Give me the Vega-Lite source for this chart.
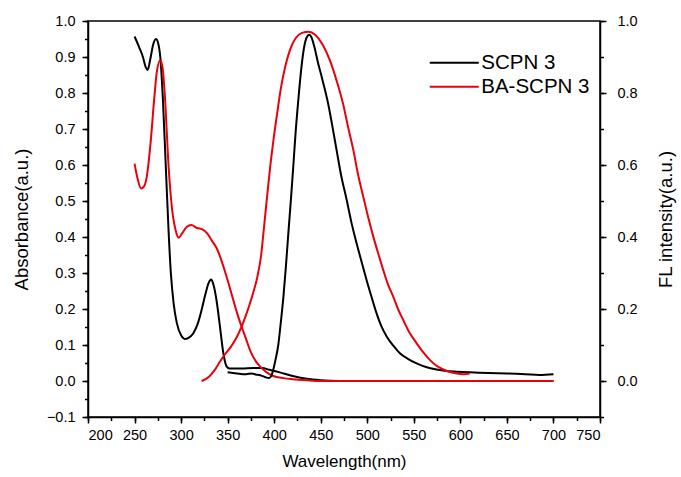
{
  "$schema": "https://vega.github.io/schema/vega-lite/v6.json",
  "width": 512,
  "height": 396,
  "autosize": {"type": "none"},
  "padding": {"left": 88, "top": 21, "right": 81, "bottom": 60},
  "background": "white",
  "config": {
    "view": {"stroke": "black", "strokeWidth": 1.5},
    "font": "Liberation Sans",
    "axis": {
      "grid": false,
      "domainColor": "black",
      "domainWidth": 1.5,
      "tickColor": "black",
      "tickWidth": 1.5,
      "labelColor": "black",
      "titleColor": "black",
      "labelFont": "Liberation Sans",
      "titleFont": "Liberation Sans",
      "labelFontSize": 14.5,
      "titleFontSize": 18.5,
      "titleFontWeight": "normal"
    }
  },
  "datasets": {
    "d": [
      {"s": "SCPN 3", "k": "abs", "wl": 250, "v": 0.957},
      {"s": "SCPN 3", "k": "abs", "wl": 255, "v": 0.927},
      {"s": "SCPN 3", "k": "abs", "wl": 259, "v": 0.9},
      {"s": "SCPN 3", "k": "abs", "wl": 262, "v": 0.872},
      {"s": "SCPN 3", "k": "abs", "wl": 264, "v": 0.864},
      {"s": "SCPN 3", "k": "abs", "wl": 267, "v": 0.895},
      {"s": "SCPN 3", "k": "abs", "wl": 270, "v": 0.935},
      {"s": "SCPN 3", "k": "abs", "wl": 273, "v": 0.95},
      {"s": "SCPN 3", "k": "abs", "wl": 275.5, "v": 0.937},
      {"s": "SCPN 3", "k": "abs", "wl": 278, "v": 0.89},
      {"s": "SCPN 3", "k": "abs", "wl": 280.5, "v": 0.78},
      {"s": "SCPN 3", "k": "abs", "wl": 283.5, "v": 0.6},
      {"s": "SCPN 3", "k": "abs", "wl": 286.5, "v": 0.42},
      {"s": "SCPN 3", "k": "abs", "wl": 289, "v": 0.3},
      {"s": "SCPN 3", "k": "abs", "wl": 292, "v": 0.215},
      {"s": "SCPN 3", "k": "abs", "wl": 295.5, "v": 0.16},
      {"s": "SCPN 3", "k": "abs", "wl": 300, "v": 0.127},
      {"s": "SCPN 3", "k": "abs", "wl": 304, "v": 0.117},
      {"s": "SCPN 3", "k": "abs", "wl": 308, "v": 0.12},
      {"s": "SCPN 3", "k": "abs", "wl": 313, "v": 0.132},
      {"s": "SCPN 3", "k": "abs", "wl": 318, "v": 0.16},
      {"s": "SCPN 3", "k": "abs", "wl": 322, "v": 0.197},
      {"s": "SCPN 3", "k": "abs", "wl": 326, "v": 0.24},
      {"s": "SCPN 3", "k": "abs", "wl": 329.5, "v": 0.272},
      {"s": "SCPN 3", "k": "abs", "wl": 332.5, "v": 0.282},
      {"s": "SCPN 3", "k": "abs", "wl": 335, "v": 0.265},
      {"s": "SCPN 3", "k": "abs", "wl": 338, "v": 0.225},
      {"s": "SCPN 3", "k": "abs", "wl": 341.8, "v": 0.15},
      {"s": "SCPN 3", "k": "abs", "wl": 345.4, "v": 0.077},
      {"s": "SCPN 3", "k": "abs", "wl": 349, "v": 0.04},
      {"s": "SCPN 3", "k": "abs", "wl": 352, "v": 0.035},
      {"s": "SCPN 3", "k": "abs", "wl": 365, "v": 0.035},
      {"s": "SCPN 3", "k": "abs", "wl": 378, "v": 0.036},
      {"s": "SCPN 3", "k": "abs", "wl": 387, "v": 0.036},
      {"s": "SCPN 3", "k": "abs", "wl": 395, "v": 0.031},
      {"s": "SCPN 3", "k": "abs", "wl": 406, "v": 0.024},
      {"s": "SCPN 3", "k": "abs", "wl": 420, "v": 0.014},
      {"s": "SCPN 3", "k": "abs", "wl": 435, "v": 0.006},
      {"s": "SCPN 3", "k": "abs", "wl": 450, "v": 0.002},
      {"s": "SCPN 3", "k": "abs", "wl": 470, "v": 0},
      {"s": "SCPN 3", "k": "abs", "wl": 600, "v": 0},
      {"s": "SCPN 3", "k": "abs", "wl": 700, "v": 0},

      {"s": "SCPN 3", "k": "fl", "wl": 350, "v": 0.024},
      {"s": "SCPN 3", "k": "fl", "wl": 360, "v": 0.021},
      {"s": "SCPN 3", "k": "fl", "wl": 370, "v": 0.019},
      {"s": "SCPN 3", "k": "fl", "wl": 376, "v": 0.021},
      {"s": "SCPN 3", "k": "fl", "wl": 380, "v": 0.018},
      {"s": "SCPN 3", "k": "fl", "wl": 385, "v": 0.016},
      {"s": "SCPN 3", "k": "fl", "wl": 390, "v": 0.011},
      {"s": "SCPN 3", "k": "fl", "wl": 394.5, "v": 0.008},
      {"s": "SCPN 3", "k": "fl", "wl": 397, "v": 0.015},
      {"s": "SCPN 3", "k": "fl", "wl": 399, "v": 0.031},
      {"s": "SCPN 3", "k": "fl", "wl": 401.5, "v": 0.06},
      {"s": "SCPN 3", "k": "fl", "wl": 404.4, "v": 0.1},
      {"s": "SCPN 3", "k": "fl", "wl": 407, "v": 0.16},
      {"s": "SCPN 3", "k": "fl", "wl": 409.8, "v": 0.23},
      {"s": "SCPN 3", "k": "fl", "wl": 412.5, "v": 0.315},
      {"s": "SCPN 3", "k": "fl", "wl": 415.2, "v": 0.41},
      {"s": "SCPN 3", "k": "fl", "wl": 418, "v": 0.505},
      {"s": "SCPN 3", "k": "fl", "wl": 420.5, "v": 0.595},
      {"s": "SCPN 3", "k": "fl", "wl": 423, "v": 0.69},
      {"s": "SCPN 3", "k": "fl", "wl": 425.9, "v": 0.78},
      {"s": "SCPN 3", "k": "fl", "wl": 429, "v": 0.865},
      {"s": "SCPN 3", "k": "fl", "wl": 432, "v": 0.925},
      {"s": "SCPN 3", "k": "fl", "wl": 435, "v": 0.955},
      {"s": "SCPN 3", "k": "fl", "wl": 437.7, "v": 0.962},
      {"s": "SCPN 3", "k": "fl", "wl": 440, "v": 0.955},
      {"s": "SCPN 3", "k": "fl", "wl": 443, "v": 0.93},
      {"s": "SCPN 3", "k": "fl", "wl": 447, "v": 0.885},
      {"s": "SCPN 3", "k": "fl", "wl": 452, "v": 0.835},
      {"s": "SCPN 3", "k": "fl", "wl": 458, "v": 0.77},
      {"s": "SCPN 3", "k": "fl", "wl": 462, "v": 0.715},
      {"s": "SCPN 3", "k": "fl", "wl": 467, "v": 0.642},
      {"s": "SCPN 3", "k": "fl", "wl": 472, "v": 0.57},
      {"s": "SCPN 3", "k": "fl", "wl": 477.9, "v": 0.503},
      {"s": "SCPN 3", "k": "fl", "wl": 483, "v": 0.44},
      {"s": "SCPN 3", "k": "fl", "wl": 488.6, "v": 0.382},
      {"s": "SCPN 3", "k": "fl", "wl": 494, "v": 0.33},
      {"s": "SCPN 3", "k": "fl", "wl": 499.3, "v": 0.28},
      {"s": "SCPN 3", "k": "fl", "wl": 505, "v": 0.23},
      {"s": "SCPN 3", "k": "fl", "wl": 510, "v": 0.188},
      {"s": "SCPN 3", "k": "fl", "wl": 515, "v": 0.153},
      {"s": "SCPN 3", "k": "fl", "wl": 521, "v": 0.123},
      {"s": "SCPN 3", "k": "fl", "wl": 528, "v": 0.098},
      {"s": "SCPN 3", "k": "fl", "wl": 535, "v": 0.077},
      {"s": "SCPN 3", "k": "fl", "wl": 544, "v": 0.061},
      {"s": "SCPN 3", "k": "fl", "wl": 553, "v": 0.049},
      {"s": "SCPN 3", "k": "fl", "wl": 563, "v": 0.039},
      {"s": "SCPN 3", "k": "fl", "wl": 574.5, "v": 0.032},
      {"s": "SCPN 3", "k": "fl", "wl": 585, "v": 0.028},
      {"s": "SCPN 3", "k": "fl", "wl": 596, "v": 0.026},
      {"s": "SCPN 3", "k": "fl", "wl": 610, "v": 0.024},
      {"s": "SCPN 3", "k": "fl", "wl": 630, "v": 0.022},
      {"s": "SCPN 3", "k": "fl", "wl": 650, "v": 0.021},
      {"s": "SCPN 3", "k": "fl", "wl": 670, "v": 0.019},
      {"s": "SCPN 3", "k": "fl", "wl": 685, "v": 0.017},
      {"s": "SCPN 3", "k": "fl", "wl": 700, "v": 0.019},

      {"s": "BA-SCPN 3", "k": "abs", "wl": 250, "v": 0.604},
      {"s": "BA-SCPN 3", "k": "abs", "wl": 253, "v": 0.565},
      {"s": "BA-SCPN 3", "k": "abs", "wl": 257, "v": 0.535},
      {"s": "BA-SCPN 3", "k": "abs", "wl": 260, "v": 0.54},
      {"s": "BA-SCPN 3", "k": "abs", "wl": 263, "v": 0.565},
      {"s": "BA-SCPN 3", "k": "abs", "wl": 267, "v": 0.655},
      {"s": "BA-SCPN 3", "k": "abs", "wl": 271, "v": 0.78},
      {"s": "BA-SCPN 3", "k": "abs", "wl": 274, "v": 0.86},
      {"s": "BA-SCPN 3", "k": "abs", "wl": 277.5, "v": 0.89},
      {"s": "BA-SCPN 3", "k": "abs", "wl": 280, "v": 0.872},
      {"s": "BA-SCPN 3", "k": "abs", "wl": 283, "v": 0.775},
      {"s": "BA-SCPN 3", "k": "abs", "wl": 286, "v": 0.62},
      {"s": "BA-SCPN 3", "k": "abs", "wl": 290, "v": 0.485},
      {"s": "BA-SCPN 3", "k": "abs", "wl": 294, "v": 0.42},
      {"s": "BA-SCPN 3", "k": "abs", "wl": 297.5, "v": 0.398},
      {"s": "BA-SCPN 3", "k": "abs", "wl": 301, "v": 0.41},
      {"s": "BA-SCPN 3", "k": "abs", "wl": 306, "v": 0.428},
      {"s": "BA-SCPN 3", "k": "abs", "wl": 311, "v": 0.433},
      {"s": "BA-SCPN 3", "k": "abs", "wl": 317, "v": 0.425},
      {"s": "BA-SCPN 3", "k": "abs", "wl": 323, "v": 0.421},
      {"s": "BA-SCPN 3", "k": "abs", "wl": 328, "v": 0.41},
      {"s": "BA-SCPN 3", "k": "abs", "wl": 333, "v": 0.39},
      {"s": "BA-SCPN 3", "k": "abs", "wl": 338, "v": 0.37},
      {"s": "BA-SCPN 3", "k": "abs", "wl": 342, "v": 0.345},
      {"s": "BA-SCPN 3", "k": "abs", "wl": 348, "v": 0.297},
      {"s": "BA-SCPN 3", "k": "abs", "wl": 354, "v": 0.244},
      {"s": "BA-SCPN 3", "k": "abs", "wl": 360, "v": 0.19},
      {"s": "BA-SCPN 3", "k": "abs", "wl": 365, "v": 0.151},
      {"s": "BA-SCPN 3", "k": "abs", "wl": 370, "v": 0.115},
      {"s": "BA-SCPN 3", "k": "abs", "wl": 374, "v": 0.086},
      {"s": "BA-SCPN 3", "k": "abs", "wl": 380, "v": 0.056},
      {"s": "BA-SCPN 3", "k": "abs", "wl": 385, "v": 0.04},
      {"s": "BA-SCPN 3", "k": "abs", "wl": 392, "v": 0.024},
      {"s": "BA-SCPN 3", "k": "abs", "wl": 399, "v": 0.014},
      {"s": "BA-SCPN 3", "k": "abs", "wl": 410, "v": 0.008},
      {"s": "BA-SCPN 3", "k": "abs", "wl": 420, "v": 0.005},
      {"s": "BA-SCPN 3", "k": "abs", "wl": 435, "v": 0.002},
      {"s": "BA-SCPN 3", "k": "abs", "wl": 450, "v": 0},
      {"s": "BA-SCPN 3", "k": "abs", "wl": 600, "v": 0},
      {"s": "BA-SCPN 3", "k": "abs", "wl": 700, "v": 0},

      {"s": "BA-SCPN 3", "k": "fl", "wl": 322, "v": 0.0},
      {"s": "BA-SCPN 3", "k": "fl", "wl": 330, "v": 0.012},
      {"s": "BA-SCPN 3", "k": "fl", "wl": 336, "v": 0.03},
      {"s": "BA-SCPN 3", "k": "fl", "wl": 342, "v": 0.055},
      {"s": "BA-SCPN 3", "k": "fl", "wl": 348, "v": 0.077},
      {"s": "BA-SCPN 3", "k": "fl", "wl": 354, "v": 0.097},
      {"s": "BA-SCPN 3", "k": "fl", "wl": 360, "v": 0.123},
      {"s": "BA-SCPN 3", "k": "fl", "wl": 365, "v": 0.151},
      {"s": "BA-SCPN 3", "k": "fl", "wl": 370, "v": 0.185},
      {"s": "BA-SCPN 3", "k": "fl", "wl": 374, "v": 0.216},
      {"s": "BA-SCPN 3", "k": "fl", "wl": 378, "v": 0.25},
      {"s": "BA-SCPN 3", "k": "fl", "wl": 382, "v": 0.29},
      {"s": "BA-SCPN 3", "k": "fl", "wl": 386, "v": 0.35},
      {"s": "BA-SCPN 3", "k": "fl", "wl": 389, "v": 0.425},
      {"s": "BA-SCPN 3", "k": "fl", "wl": 392, "v": 0.503},
      {"s": "BA-SCPN 3", "k": "fl", "wl": 395.5, "v": 0.59},
      {"s": "BA-SCPN 3", "k": "fl", "wl": 399, "v": 0.665},
      {"s": "BA-SCPN 3", "k": "fl", "wl": 403, "v": 0.74},
      {"s": "BA-SCPN 3", "k": "fl", "wl": 407, "v": 0.81},
      {"s": "BA-SCPN 3", "k": "fl", "wl": 412, "v": 0.875},
      {"s": "BA-SCPN 3", "k": "fl", "wl": 417, "v": 0.92},
      {"s": "BA-SCPN 3", "k": "fl", "wl": 423, "v": 0.952},
      {"s": "BA-SCPN 3", "k": "fl", "wl": 430, "v": 0.967},
      {"s": "BA-SCPN 3", "k": "fl", "wl": 437, "v": 0.97},
      {"s": "BA-SCPN 3", "k": "fl", "wl": 444, "v": 0.962},
      {"s": "BA-SCPN 3", "k": "fl", "wl": 452, "v": 0.935},
      {"s": "BA-SCPN 3", "k": "fl", "wl": 460, "v": 0.89},
      {"s": "BA-SCPN 3", "k": "fl", "wl": 467, "v": 0.835},
      {"s": "BA-SCPN 3", "k": "fl", "wl": 474, "v": 0.77},
      {"s": "BA-SCPN 3", "k": "fl", "wl": 479, "v": 0.71},
      {"s": "BA-SCPN 3", "k": "fl", "wl": 485, "v": 0.642},
      {"s": "BA-SCPN 3", "k": "fl", "wl": 490, "v": 0.575},
      {"s": "BA-SCPN 3", "k": "fl", "wl": 495.7, "v": 0.512},
      {"s": "BA-SCPN 3", "k": "fl", "wl": 501, "v": 0.455},
      {"s": "BA-SCPN 3", "k": "fl", "wl": 506.5, "v": 0.401},
      {"s": "BA-SCPN 3", "k": "fl", "wl": 512, "v": 0.352},
      {"s": "BA-SCPN 3", "k": "fl", "wl": 517.2, "v": 0.308},
      {"s": "BA-SCPN 3", "k": "fl", "wl": 522, "v": 0.27},
      {"s": "BA-SCPN 3", "k": "fl", "wl": 528, "v": 0.234},
      {"s": "BA-SCPN 3", "k": "fl", "wl": 533, "v": 0.2},
      {"s": "BA-SCPN 3", "k": "fl", "wl": 538.7, "v": 0.169},
      {"s": "BA-SCPN 3", "k": "fl", "wl": 545, "v": 0.136},
      {"s": "BA-SCPN 3", "k": "fl", "wl": 553, "v": 0.105},
      {"s": "BA-SCPN 3", "k": "fl", "wl": 560, "v": 0.08},
      {"s": "BA-SCPN 3", "k": "fl", "wl": 567.4, "v": 0.058},
      {"s": "BA-SCPN 3", "k": "fl", "wl": 574, "v": 0.043},
      {"s": "BA-SCPN 3", "k": "fl", "wl": 581.7, "v": 0.032},
      {"s": "BA-SCPN 3", "k": "fl", "wl": 589, "v": 0.025},
      {"s": "BA-SCPN 3", "k": "fl", "wl": 596, "v": 0.021},
      {"s": "BA-SCPN 3", "k": "fl", "wl": 603, "v": 0.019},
      {"s": "BA-SCPN 3", "k": "fl", "wl": 610, "v": 0.021}
    ]
  },
  "layer": [
    {
      "data": {"name": "d"},
      "transform": [{"filter": "datum.k == 'abs'"}],
      "mark": {"type": "point", "opacity": 0},
      "encoding": {
        "x": {"field": "wl", "type": "quantitative", "scale": {"domain": [200, 750], "nice": false, "zero": false},
          "axis": {"orient": "bottom", "values": [200,225,250,275,300,325,350,375,400,425,450,475,500,525,550,575,600,625,650,675,700,725,750], "labels": false, "domain": false, "tickSize": 3.5, "title": null}},
        "y": {"field": "v", "type": "quantitative", "scale": {"domain": [-0.1, 1.0], "nice": false, "zero": false},
          "axis": {"orient": "left", "values": [-0.1,-0.05,0,0.05,0.1,0.15,0.2,0.25,0.3,0.35,0.4,0.45,0.5,0.55,0.6,0.65,0.7,0.75,0.8,0.85,0.9,0.95,1.0], "labels": false, "domain": false, "tickSize": 3.5, "title": null}}
      }
    },
    {
      "data": {"name": "d"},
      "transform": [{"filter": "datum.k == 'fl'"}],
      "mark": {"type": "point", "opacity": 0},
      "encoding": {
        "x": {"field": "wl", "type": "quantitative", "scale": {"domain": [200, 750], "nice": false, "zero": false}, "axis": null},
        "y": {"field": "v", "type": "quantitative", "scale": {"domain": [-0.1, 1.0], "nice": false, "zero": false},
          "axis": {"orient": "right", "values": [-0.1,0,0.1,0.2,0.3,0.4,0.5,0.6,0.7,0.8,0.9,1.0], "labels": false, "domain": false, "tickSize": 3.5, "title": null}}
      }
    },
    {
      "data": {"name": "d"},
      "transform": [{"filter": "datum.k == 'abs'"}],
      "mark": {"type": "line", "strokeWidth": 2, "interpolate": "monotone"},
      "encoding": {
        "x": {"field": "wl", "type": "quantitative", "scale": {"domain": [200, 750], "nice": false, "zero": false},
          "axis": {"orient": "bottom", "title": "Wavelength(nm)", "titleFontSize": 17, "values": [200,250,300,350,400,450,500,550,600,650,700,750], "tickSize": 6, "labelPadding": 5.5, "titlePadding": 11.5}},
        "y": {"field": "v", "type": "quantitative", "scale": {"domain": [-0.1, 1.0], "nice": false, "zero": false},
          "axis": {"orient": "left", "title": "Absorbance(a.u.)", "values": [-0.1,0,0.1,0.2,0.3,0.4,0.5,0.6,0.7,0.8,0.9,1.0], "format": ".1f", "tickSize": 6, "labelPadding": 7, "titlePadding": 15}},
        "color": {"field": "s", "type": "nominal", "scale": {"domain": ["SCPN 3", "BA-SCPN 3"], "range": ["#000000", "#e8000b"]},
          "legend": {"title": null, "orient": "none", "legendX": 352.75, "legendY": 28.25, "symbolType": "M-2,0H2", "symbolSize": 600, "symbolStrokeWidth": 2, "labelFontSize": 20.5, "labelFont": "Liberation Sans", "labelColor": "black", "rowPadding": 0, "labelOffset": 13.5, "padding": 0}},
        "order": {"field": "wl", "type": "quantitative"}
      }
    },
    {
      "data": {"name": "d"},
      "transform": [{"filter": "datum.k == 'fl'"}],
      "mark": {"type": "line", "strokeWidth": 2, "interpolate": "monotone"},
      "encoding": {
        "x": {"field": "wl", "type": "quantitative", "scale": {"domain": [200, 750], "nice": false, "zero": false}, "axis": null},
        "y": {"field": "v", "type": "quantitative", "scale": {"domain": [-0.1, 1.0], "nice": false, "zero": false},
          "axis": {"orient": "right", "title": "FL intensity(a.u.)", "values": [0,0.2,0.4,0.6,0.8,1.0], "format": ".1f", "tickSize": 6, "labelPadding": 11, "titlePadding": 19.5, "titleAngle": -90, "titleBaseline": "top"}},
        "color": {"field": "s", "type": "nominal", "scale": {"domain": ["SCPN 3", "BA-SCPN 3"], "range": ["#000000", "#e8000b"]}},
        "order": {"field": "wl", "type": "quantitative"}
      }
    }
  ],
  "resolve": {"scale": {"y": "independent"}, "axis": {"x": "independent", "y": "independent"}}
}
